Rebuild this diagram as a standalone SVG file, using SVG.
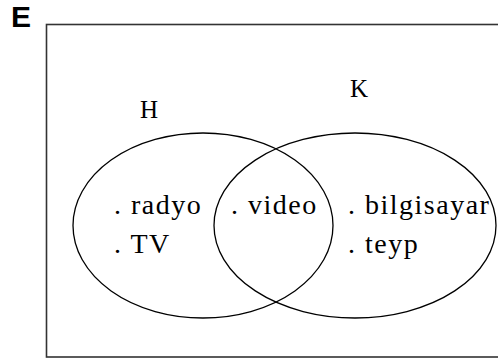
<svg xmlns="http://www.w3.org/2000/svg" width="498" height="358" viewBox="0 0 498 358">
<style>
.frame{fill:none;stroke:#333;stroke-width:1.6}
.set{fill:none;stroke:#000;stroke-width:1.3}
.lbl{font-family:"Liberation Serif","Times New Roman",serif;font-size:25px;fill:#000}
.item{font-family:"Liberation Serif","Times New Roman",serif;font-size:28px;letter-spacing:1.5px;fill:#000}
.uni{font-family:"Liberation Sans",Arial,sans-serif;font-weight:bold;font-size:30px;fill:#000}
</style>
<rect width="498" height="358" fill="#fff"/>
<g id="universe">
<rect class="frame" x="46.5" y="24.5" width="480" height="332.5"/>
<text class="uni" x="11" y="27">E</text>
</g>
<g id="setH">
<ellipse class="set" cx="203" cy="225.5" rx="130" ry="92.5"/>
<text class="lbl" x="140" y="118">H</text>
</g>
<g id="setK">
<ellipse class="set" cx="355" cy="225.5" rx="141" ry="92.5"/>
<text class="lbl" x="350" y="97">K</text>
</g>
<g id="items">
<text class="item" x="114" y="214">. radyo</text>
<text class="item" x="114" y="253">. TV</text>
<text class="item" x="231" y="214">. video</text>
<text class="item" x="348" y="214">. bilgisayar</text>
<text class="item" x="348" y="253">. teyp</text>
</g>
<g id="connectors"/>
</svg>
